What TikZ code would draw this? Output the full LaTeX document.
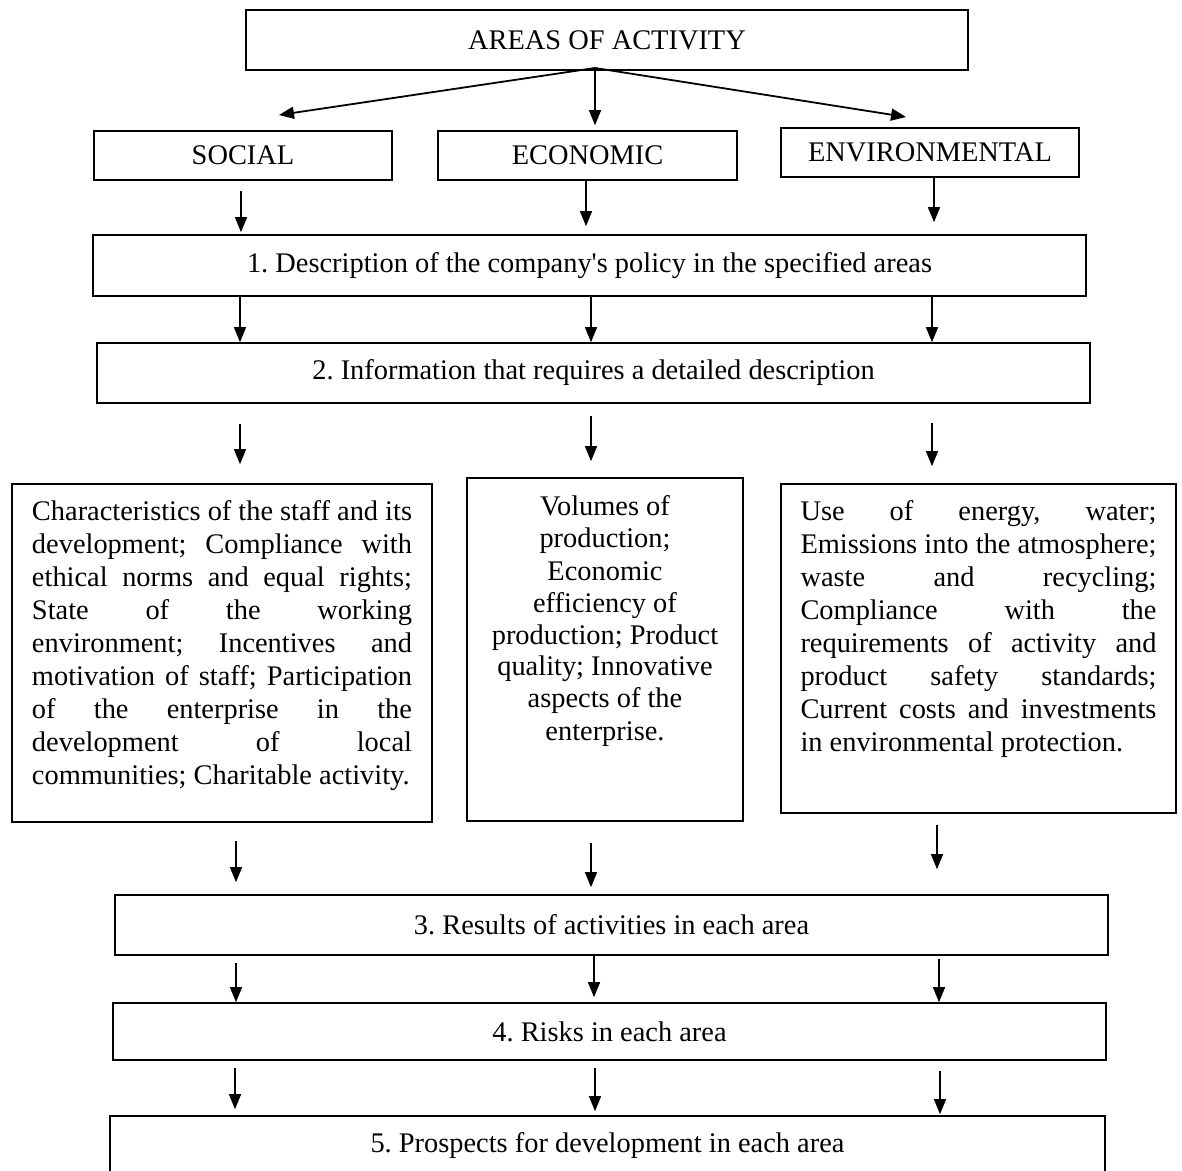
\documentclass[tikz,border=0pt]{standalone}
\usepackage{fontspec}
\setmainfont{Liberation Serif}
\usetikzlibrary{arrows.meta}
\frenchspacing

\newcommand{\fullline}[1]{\makebox[\linewidth][s]{#1}\\}

\begin{document}
\begin{tikzpicture} [x=.5pt, y=-.5pt,
  every node/.style={font=\fontsize{14.2}{16.5}\selectfont},
  box/.style={draw, line width=.8pt, inner sep=0pt},
  arr/.style={line width=.65pt, -{Triangle[length=7.5pt, width=6pt]}}]

\useasboundingbox (0,0) rectangle (1182,1171);
\clip (0,0) rectangle (1182,1171);
\fill[white] (0,0) rectangle (1182,1171);

\node[box, minimum width=361pt, minimum height=30pt] (areas) at (607,40) {AREAS OF ACTIVITY};

\node[box, minimum width=149pt, minimum height=24.5pt] (soc) at (243,155.5) {SOCIAL};
\node[box, minimum width=149.5pt, minimum height=24.5pt] (eco) at (587.5,155.5) {ECONOMIC};
\node[box, minimum width=149pt, minimum height=24.5pt] (env) at (930,152.5) {ENVIRONMENTAL};

\node[box, minimum width=496.5pt, minimum height=30.5pt] (b1) at (589.5,265.5) {1. Description of the company\textquotesingle s policy in the specified areas};
\node[box, minimum width=496.5pt, minimum height=30pt] (b2) at (593.5,373) {2. Information that requires a detailed description};

\node[box, inner xsep=10pt] (dsoc) at (222,653) {\parbox[c][169pt][t]{190pt}{\vspace*{8.3pt}%
\fullline{Characteristics of the staff and its}
\fullline{development; Compliance with}
\fullline{ethical norms and equal rights;}
\fullline{State of the working}
\fullline{environment; Incentives and}
\fullline{motivation of staff; Participation}
\fullline{of the enterprise in the}
\fullline{development of local}
communities; Charitable activity.}};

\node[box] (deco) at (605,649.5) {\parbox[c][171.5pt][t]{138pt}{\fontsize{14.2}{16}\selectfont\centering\vspace*{9pt}%
Volumes of\\ production;\\ Economic\\ efficiency of\\ production; Product\\ quality; Innovative\\ aspects of the\\ enterprise.\par}};

\node[box, inner xsep=9.75pt] (denv) at (978.5,648.5) {\parbox[c][164.5pt][t]{178pt}{\vspace*{8.3pt}%
\fullline{Use of energy, water;}
\fullline{Emissions into the atmosphere;}
\fullline{waste and recycling;}
\fullline{Compliance with the}
\fullline{requirements of activity and}
\fullline{product safety standards;}
\fullline{Current costs and investments}
in environmental protection.}};

\node[box, minimum width=496.5pt, minimum height=30pt] (b3) at (611.5,925) {3. Results of activities in each area};
\node[box, minimum width=496.5pt, minimum height=28.5pt] (b4) at (609.5,1031.5) {4. Risks in each area};
\node[box, minimum width=497.5pt, minimum height=30pt] (b5) at (607.5,1146) {5. Prospects for development in each area};

% branches from the top box
\coordinate (hub) at (595,68);
\coordinate (tipS) at (279,115);
\coordinate (tipV) at (906,117);
\draw[arr, line width=.9pt] (hub) -- (tipS);
\draw[arr, line width=.9pt] (hub) -- (tipV);
\draw[arr, shorten >=2.5pt] (areas.south -| hub) -- (eco.north -| hub);

% vertical arrows: from/to/x/gap at start/gap at end (px)
\foreach \a/\b/\x/\s/\e in {soc/b1/241/10/2, eco/b1/586/0/8, env/b1/934/0/12,
  b1/b2/240/0/0, b1/b2/591/0/0, b1/b2/932/0/0,
  b2/dsoc/240/20/19, b2/deco/591/12/16, b2/denv/932/19/17,
  dsoc/b3/236/18/12, deco/b3/591/21/7, denv/b3/937/11/25,
  b3/b4/236/7/0, b3/b4/594/0/5, b3/b4/939/3/0,
  b4/b5/235/7/6, b4/b5/595/7/4, b4/b5/940/10/1} {
 \draw[arr, shorten <=\s*.5pt, shorten >=\e*.5pt] (\a.south -| \x,0) -- (\b.north -| \x,0);
};

\end{tikzpicture}
\end{document}
